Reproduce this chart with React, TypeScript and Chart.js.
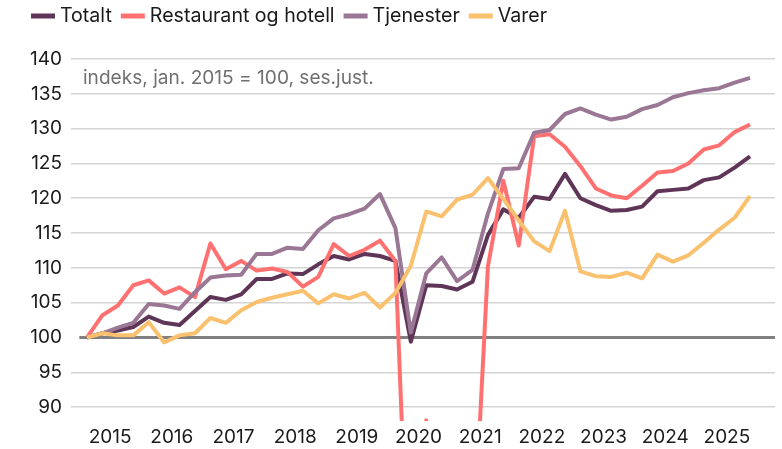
import React, { useEffect, useRef } from "react";
import { Chart, registerables } from "chart.js";

Chart.register(...registerables);

const FONT = "Inter, 'DejaVu Sans', sans-serif";

// Quarterly periods 2015K1 .. 2025K4
const years = ["2015", "2016", "2017", "2018", "2019", "2020", "2021", "2022", "2023", "2024", "2025"];
const quarters = years.flatMap((y) => ["K1", "K2", "K3", "K4"].map((q) => `${y}${q}`));

const totalt = [
  100, 100.6, 101.0, 101.5, 103.0, 102.1, 101.8, 103.8, 105.8, 105.4,
  106.2, 108.4, 108.4, 109.2, 109.1, 110.5, 111.7, 111.2, 112.0, 111.7,
  111.0, 99.4, 107.5, 107.4, 106.9, 108.0, 114.7, 118.4, 117.2, 120.2,
  119.9, 123.5, 120.0, 119.0, 118.2, 118.3, 118.8, 121.0, 121.2, 121.4,
  122.6, 123.0, 124.4, 126.0,
];
const restaurant = [
  100, 103.2, 104.6, 107.5, 108.2, 106.3, 107.2, 105.8, 113.5, 109.8,
  111.0, 109.6, 109.9, 109.4, 107.3, 108.7, 113.4, 111.7, 112.6, 113.9,
  111.0, 55.0, 88.1, 75.0, 62.0, 67.0, 110.2, 122.5, 113.2, 128.9,
  129.2, 127.4, 124.6, 121.4, 120.4, 120.0, 121.8, 123.7, 123.9, 125.0,
  127.0, 127.6, 129.5, 130.6,
];
const tjenester = [
  100, 100.6, 101.4, 102.1, 104.8, 104.6, 104.1, 106.5, 108.6, 108.9,
  109.0, 112.0, 112.0, 112.9, 112.7, 115.4, 117.1, 117.7, 118.5, 120.6,
  115.7, 100.7, 109.2, 111.5, 108.1, 109.7, 117.8, 124.2, 124.3, 129.4,
  129.8, 132.1, 132.9, 132.0, 131.3, 131.7, 132.8, 133.4, 134.5, 135.1,
  135.5, 135.8, 136.6, 137.3,
];
const varer = [
  100, 100.6, 100.3, 100.3, 102.2, 99.3, 100.3, 100.6, 102.8, 102.1,
  103.9, 105.1, 105.7, 106.2, 106.7, 104.9, 106.2, 105.6, 106.4, 104.3,
  106.4, 110.3, 118.1, 117.4, 119.8, 120.5, 122.9, 119.9, 116.8, 113.8,
  112.4, 118.2, 109.5, 108.8, 108.7, 109.3, 108.5, 111.9, 110.9, 111.8,
  113.6, 115.5, 117.2, 120.3,
];

const seriesNames = ["Totalt", "Restaurant og hotell", "Tjenester", "Varer"];
const seriesColors = ["#5f3557", "#ff7171", "#9a7794", "#f9c06d"];
const seriesData = [totalt, restaurant, tjenester, varer];

const yTicks = [90, 95, 100, 105, 110, 115, 120, 125, 130, 135, 140];
const baseValue = 100;
const noteText = "indeks, jan. 2015 = 100, ses.just.";

export default function App() {
  const ref = useRef<HTMLCanvasElement>(null);

  useEffect(() => {
    const canvas = ref.current;
    if (!canvas) return;

    const extras = {
      id: "extras",
      beforeDatasetsDraw(chart: any) {
        const { ctx, chartArea, scales } = chart;
        const y = scales.y.getPixelForValue(baseValue);
        const x0 = scales.x.getPixelForValue(-0.5);
        ctx.save();
        ctx.strokeStyle = "#808080";
        ctx.lineWidth = 3;
        ctx.beginPath();
        ctx.moveTo(x0, y);
        ctx.lineTo(chartArea.right, y);
        ctx.stroke();
        ctx.font = `19.1px ${FONT}`;
        ctx.fillStyle = "#707070";
        ctx.textBaseline = "middle";
        ctx.textAlign = "left";
        ctx.fillText(noteText, chartArea.left + 12, chartArea.top + 19);
        ctx.restore();
      },
      afterDraw(chart: any) {
        // legend row: line swatch + label
        const { ctx } = chart;
        ctx.save();
        ctx.font = `19.6px ${FONT}`;
        ctx.textBaseline = "middle";
        ctx.textAlign = "left";
        let x = 31;
        chart.data.datasets.forEach((ds: any) => {
          ctx.fillStyle = ds.borderColor;
          ctx.fillRect(x, 13.5, 24, 5);
          ctx.fillStyle = "#1a1a1a";
          ctx.fillText(ds.label, x + 29, 16.5);
          x += 29 + ctx.measureText(ds.label).width + 9;
        });
        ctx.restore();
      },
    };

    const chart = new Chart(canvas, {
      type: "line",
      data: {
        labels: quarters,
        datasets: seriesData.map((arr, k) => ({
          label: seriesNames[k],
          data: arr.map((v, i) => ({ x: i, y: v })),
          borderColor: seriesColors[k],
          backgroundColor: seriesColors[k],
          borderWidth: 4,
          pointRadius: 0,
          tension: 0,
          borderJoinStyle: "round" as const,
          order: seriesData.length - k,
        })),
      },
      options: {
        animation: false,
        responsive: false,
        layout: { padding: { left: 24, right: 7, top: 59, bottom: 0 } },
        plugins: {
          tooltip: { enabled: false },
          legend: { display: false },
        },
        scales: {
          x: {
            type: "linear",
            min: -1.04,
            max: 44.62,
            grid: { display: false, drawTicks: false },
            border: { display: false },
            afterBuildTicks: (scale: any) => {
              scale.ticks = years.map((_, k) => ({ value: 4 * k + 1.5 }));
            },
            afterFit: (scale: any) => {
              scale.height = 28;
            },
            ticks: {
              padding: 5,
              color: "#1a1a1a",
              font: { family: FONT, size: 19 },
              maxRotation: 0,
              autoSkip: false,
              callback: (value: any) => years[Math.round((Number(value) - 1.5) / 4)],
            },
          },
          y: {
            min: 88,
            max: 140,
            grid: {
              drawTicks: false,
              color: (c: any) => (c.tick && c.tick.value === baseValue ? "rgba(0,0,0,0)" : "#d4d4d4"),
              lineWidth: 1.5,
            },
            border: { display: false },
            afterBuildTicks: (scale: any) => {
              scale.ticks = yTicks.map((v) => ({ value: v }));
            },
            afterFit: (scale: any) => {
              scale.width = 47;
            },
            ticks: {
              padding: 9,
              color: "#1a1a1a",
              font: { family: FONT, size: 19 },
            },
          },
        },
      },
      plugins: [extras],
    });

    return () => chart.destroy();
  }, []);

  return (
    <div style={{ position: "absolute", left: 0, top: 0, width: 782, height: 449, background: "#fff" }}>
      <canvas ref={ref} width={782} height={449} style={{ display: "block" }} />
    </div>
  );
}
